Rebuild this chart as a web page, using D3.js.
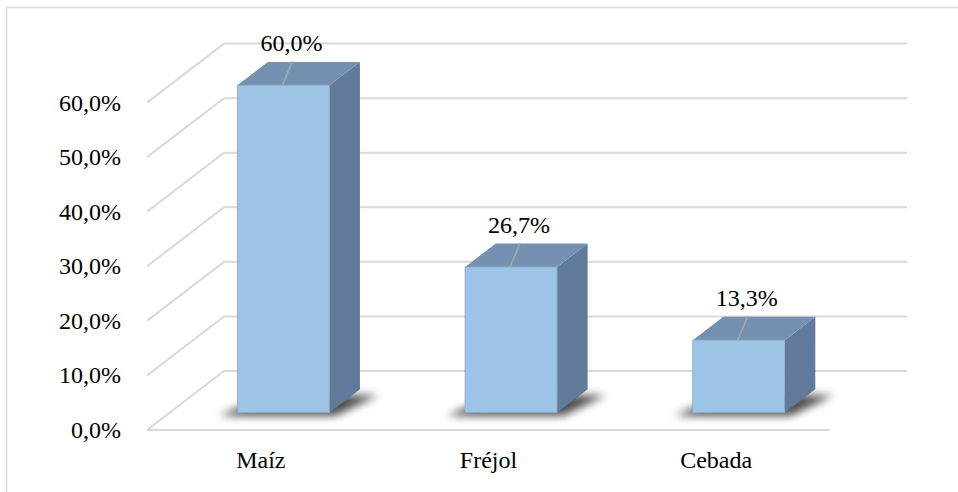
<!DOCTYPE html>
<html>
<head>
<meta charset="utf-8">
<title>Cultivos</title>
<script src="https://cdn.jsdelivr.net/npm/d3@7"></script>
<style>
  body { margin: 0; background: #ffffff; }
</style>
</head>
<body>
<div id="chart"></div>
<script>
// data
const categories = ["Maíz", "Fréjol", "Cebada"];
const values = [60.0, 26.7, 13.3];
const tickValues = [0, 10, 20, 30, 40, 50, 60];

const W = 958, H = 492;
// floor front edge and depth of the 3d box
const left = 147, right = 830, base = 430;
const depth = {dx: 77, dy: -59};
const barFront = 0.293, barBack = 0.69; // fraction of depth used by the bars
const font = "'Liberation Serif', 'Times New Roman', Times, serif";

const svg = d3.select("#chart").append("svg")
  .attr("width", W).attr("height", H)
  .attr("font-family", font);

// shadow filter
const defs = svg.append("defs");
defs.append("filter").attr("id", "blur")
  .attr("x", "-50%").attr("y", "-50%").attr("width", "200%").attr("height", "200%")
  .append("feGaussianBlur").attr("stdDeviation", 4);

// outer frame
svg.append("rect")
  .attr("x", 6.5).attr("y", 7.5).attr("width", 1000).attr("height", 1000)
  .attr("fill", "none").attr("stroke", "#d9d9d9").attr("stroke-width", 1.5);

const x = d3.scaleBand().domain(categories).range([left, right])
  .paddingInner(0.596).paddingOuter(0.298);
const y = d3.scaleLinear().domain([0, 60]).range([base, 102.6]);

const fmt = v => d3.format(".1f")(v).replace(".", ",") + "%";

// gridlines: back wall + left wall diagonals
const grid = svg.append("g").attr("stroke", "#d9d9d9").attr("stroke-width", 2).attr("fill", "none");
tickValues.forEach(t => {
  const yf = y(t), yb = y(t) + depth.dy;
  grid.append("path")
    .attr("d", `M${left},${yf}L${left + depth.dx},${yb}L${right + depth.dx},${yb}`);
});
// floor front edge
grid.append("line")
  .attr("x1", left).attr("x2", right).attr("y1", base).attr("y2", base);

// tick labels
svg.append("g").selectAll("text").data(tickValues).join("text")
  .attr("x", 121).attr("y", d => y(d) + 8)
  .attr("text-anchor", "end").attr("font-size", 24).attr("font-family", font)
  .text(fmt);

// category labels
svg.append("g").selectAll("text").data(categories).join("text")
  .attr("x", d => x(d) + x.bandwidth() / 2).attr("y", 468)
  .attr("text-anchor", "middle").attr("font-size", 24).attr("font-family", font)
  .text(d => d);

const fx = barFront * depth.dx, fy = barFront * depth.dy;
const bx = barBack * depth.dx, by = barBack * depth.dy;
const bw = x.bandwidth();

const bars = svg.append("g").selectAll("g").data(categories).join("g");

bars.each(function(c, i) {
  const g = d3.select(this);
  const x0 = x(c) + fx, x1 = x0 + bw;
  const yb = base + fy, yt = y(values[i]) + fy;
  const ddx = bx - fx, ddy = by - fy;

  // shadow on the floor
  g.append("path")
    .attr("d", `M${x0 - 18},${yb + 3}L${x1 + 6},${yb + 3}L${x1 + ddx + 18},${yb + ddy + 6}L${x0 + ddx},${yb + ddy + 6}Z`)
    .attr("fill", "#000").attr("opacity", 0.7).attr("filter", "url(#blur)");

  // side face
  g.append("path")
    .attr("d", `M${x1},${yb}L${x1 + ddx},${yb + ddy}L${x1 + ddx},${yt + ddy}L${x1},${yt}Z`)
    .attr("fill", "#61799a");
  // top face
  g.append("path")
    .attr("d", `M${x0},${yt}L${x1},${yt}L${x1 + ddx},${yt + ddy}L${x0 + ddx},${yt + ddy}Z`)
    .attr("fill", "#7591b1");
  // front face
  g.append("rect")
    .attr("x", x0).attr("y", yt).attr("width", bw).attr("height", yb - yt)
    .attr("fill", "#9dc3e6").attr("stroke", "#86a9cc").attr("stroke-width", 0.8);

  // data label with leader line
  const cx = x0 + bw / 2;
  const lx = cx + 8, ly = yt - 34;
  g.append("line")
    .attr("x1", cx - 1).attr("y1", yt).attr("x2", lx + 1).attr("y2", ly + 10)
    .attr("stroke", "#a6a6a6").attr("stroke-width", 1.5);
  g.append("text")
    .attr("x", lx).attr("y", ly)
    .attr("text-anchor", "middle").attr("font-size", 24).attr("font-family", font)
    .text(fmt(values[i]));
});
</script>
</body>
</html>
